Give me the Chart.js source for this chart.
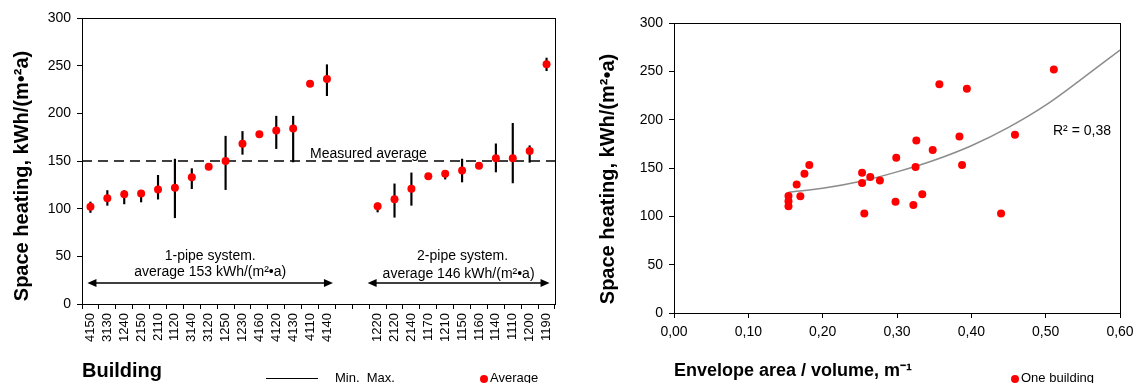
<!DOCTYPE html>
<html>
<head>
<meta charset="utf-8">
<script src="https://cdn.jsdelivr.net/npm/chart.js@4.4.1/dist/chart.umd.min.js"></script>
<style>
  html, body { margin: 0; padding: 0; background: #fff; }
  #wrap { position: relative; width: 1141px; height: 383px; overflow: hidden; }
  canvas { position: absolute; top: 0; }
  #left { left: 0; }
  #right { left: 580px; }
</style>
</head>
<body>
<div id="wrap">
  <canvas id="left" width="575" height="383"></canvas>
  <canvas id="right" width="561" height="383"></canvas>
</div>
<script>
const FONT = "'Liberation Sans', Arial, sans-serif";

// left chart: buildings, two empty slots separate 1-pipe and 2-pipe groups
const buildings = ['4150', '3130', '1240', '2150', '2110', '1120', '3140', '3120', '1250', '1230',
  '4160', '4120', '4130', '4110', '4140', '', '',
  '1220', '2120', '2140', '1170', '1210', '1150', '1160', '1140', '1110', '1200', '1190'];
const average = [102, 111, 115, 116, 120, 122, 133, 144, 150, 168, 178, 182, 184, 231, 236, null, null,
  102.5, 110, 121, 134, 136.7, 140, 145, 153, 153, 160.5, 251.4];
const minVals = [96, 103.5, 105, 107, 110, 90.5, 121, null, 120, 157, null, 163, 149, null, 218.5, null, null,
  96.5, 91, 103.5, null, 131, 128, null, 138.5, 127, 148.6, 244.7];
const maxVals = [107, 119, 119, 117, 135, 152, 142, null, 176, 181, null, 197, 197, null, 251, null, null,
  106, 126, 137.5, null, 139, 152, null, 168, 189.5, 166, 258];
const measuredAverage = 150;
const leftTicks = [0, 50, 100, 150, 200, 250, 300];

// right chart: envelope area / volume vs space heating
const envelopeRatio = [0.154, 0.154, 0.154, 0.165, 0.170, 0.1755, 0.182, 0.253, 0.253, 0.256, 0.264, 0.277,
  0.298, 0.299, 0.322, 0.326, 0.325, 0.334, 0.348, 0.357, 0.384, 0.3875, 0.394, 0.440, 0.4587, 0.511];
const heating = [121, 115.6, 110.4, 133, 120.7, 144, 153, 145, 134.5, 103, 140.7, 137,
  115, 160.6, 111.8, 178.5, 151, 122.8, 168.6, 236.7, 182.7, 153, 231.9, 103, 184.4, 252];
// trend curve
const trendX = [0.154, 0.2, 0.25, 0.3, 0.35, 0.4, 0.45, 0.5, 0.55, 0.6];
const trendY = [125, 129, 136, 146, 158, 173, 192, 215, 243, 272];

const frame = {
  id: 'frame',
  afterDraw(chart) {
    const { ctx, chartArea: a } = chart;
    ctx.save();
    ctx.strokeStyle = '#000';
    ctx.lineWidth = 1;
    ctx.strokeRect(Math.round(a.left) + 0.5, Math.round(a.top) + 0.5, Math.round(a.width), Math.round(a.height));
    ctx.restore();
  }
};

// vertical axis title, placed by hand (it sits a bit below the plot centre in the original)
function yTitle(text, cx, cy) {
  return {
    id: 'yTitle',
    afterDraw(chart) {
      const ctx = chart.ctx;
      ctx.save();
      ctx.translate(cx, cy);
      ctx.rotate(-Math.PI / 2);
      ctx.fillStyle = '#000';
      ctx.font = 'bold 20px ' + FONT;
      ctx.textAlign = 'center';
      ctx.textBaseline = 'middle';
      ctx.fillText(text, 0, 0);
      ctx.restore();
    }
  };
}

function arrow(ctx, x1, x2, y) {
  ctx.beginPath();
  ctx.moveTo(x1 + 6, y);
  ctx.lineTo(x2 - 6, y);
  ctx.stroke();
  ctx.beginPath();
  ctx.moveTo(x1, y); ctx.lineTo(x1 + 9, y - 4); ctx.lineTo(x1 + 9, y + 4); ctx.closePath();
  ctx.moveTo(x2, y); ctx.lineTo(x2 - 9, y - 4); ctx.lineTo(x2 - 9, y + 4); ctx.closePath();
  ctx.fill();
}

const leftNotes = {
  id: 'leftNotes',
  beforeDatasetsDraw(chart) {
    const { ctx, chartArea: a, scales: { y } } = chart;
    const yAvg = y.getPixelForValue(measuredAverage);
    ctx.save();
    ctx.strokeStyle = '#000';
    ctx.lineWidth = 1.5;
    ctx.setLineDash([10, 6]);
    ctx.beginPath();
    ctx.moveTo(a.left, yAvg);
    ctx.lineTo(a.right, yAvg);
    ctx.stroke();
    ctx.restore();
  },
  afterDraw(chart) {
    const { ctx, scales: { x, y } } = chart;
    ctx.save();
    ctx.fillStyle = '#000';
    ctx.strokeStyle = '#000';
    ctx.lineWidth = 1.5;
    ctx.font = '14px ' + FONT;
    ctx.textBaseline = 'middle';
    ctx.textAlign = 'left';
    ctx.fillText('Measured average', x.getPixelForValue(13), y.getPixelForValue(measuredAverage) - 7);

    const yArrow = y.getPixelForValue(22);
    const l1 = x.getPixelForValue(0) - 3, r1 = x.getPixelForValue(14) + 6;
    const l2 = x.getPixelForValue(17) - 10, r2 = x.getPixelForValue(27) + 3;
    arrow(ctx, l1, r1, yArrow);
    arrow(ctx, l2, r2, yArrow);

    ctx.textAlign = 'center';
    ctx.fillText('1-pipe system.', (l1 + r1) / 2, y.getPixelForValue(50));
    ctx.fillText('average 153 kWh/(m²•a)', (l1 + r1) / 2, y.getPixelForValue(33));
    ctx.fillText('2-pipe system.', (l2 + r2) / 2 + 4, y.getPixelForValue(50));
    ctx.fillText('average 146 kWh/(m²•a)', (l2 + r2) / 2, y.getPixelForValue(31));

    // legend
    ctx.font = '13px ' + FONT;
    ctx.lineWidth = 1;
    ctx.beginPath();
    ctx.moveTo(266, 378.5);
    ctx.lineTo(318, 378.5);
    ctx.stroke();
    ctx.textAlign = 'left';
    ctx.textBaseline = 'top';
    ctx.fillText('Min.  Max.', 335, 372);
    ctx.fillStyle = '#ff0000';
    ctx.beginPath();
    ctx.arc(484, 379, 4, 0, Math.PI * 2);
    ctx.fill();
    ctx.fillStyle = '#000';
    ctx.fillText('Average', 490, 372);
    ctx.restore();
  }
};

new Chart(document.getElementById('left').getContext('2d'), {
  type: 'bar',
  data: {
    labels: buildings,
    datasets: [{
      type: 'line',
      label: 'Average',
      data: average,
      showLine: false,
      pointRadius: 4,
      pointBorderWidth: 0,
      pointBackgroundColor: '#ff0000',
      order: 0
    }, {
      label: 'Min. Max.',
      data: buildings.map((b, i) => minVals[i] == null ? null : [minVals[i], maxVals[i]]),
      backgroundColor: '#000',
      borderWidth: 0,
      barThickness: 1.5,
      order: 1
    }]
  },
  options: {
    responsive: false,
    animation: false,
    devicePixelRatio: 1,
    layout: { padding: { top: 18, right: 20, left: 0, bottom: 0 } },
    plugins: { legend: { display: false }, tooltip: { enabled: false } },
    scales: {
      x: {
        grid: { offset: true, drawOnChartArea: false, tickLength: 5, color: '#000' },
        border: { color: '#000' },
        ticks: { color: '#000', font: { family: FONT, size: 13 }, minRotation: 90, maxRotation: 90, autoSkip: false, padding: 4 },
        title: { display: true, text: 'Building', align: 'start', color: '#000', font: { family: FONT, size: 20, weight: 'bold' }, padding: { top: 0, bottom: 0 } },
        afterFit(scale) { scale.height = 79; }
      },
      y: {
        min: 0, max: 300,
        afterBuildTicks(scale) { scale.ticks = leftTicks.map(v => ({ value: v })); },
        grid: { drawOnChartArea: false, tickLength: 5, color: '#000' },
        border: { color: '#000' },
        ticks: { color: '#000', font: { family: FONT, size: 14 }, padding: 6 },
        afterFit(scale) { scale.width = 82; }
      }
    }
  },
  plugins: [frame, leftNotes, yTitle('Space heating, kWh/(m•²a)', 22, 176)]
});

const rightNotes = {
  id: 'rightNotes',
  afterDraw(chart) {
    const { ctx } = chart;
    ctx.save();
    ctx.fillStyle = '#000';
    ctx.font = '14px ' + FONT;
    ctx.textBaseline = 'middle';
    ctx.fillText('R² = 0,38', 473, 131);
    ctx.font = '13px ' + FONT;
    ctx.textBaseline = 'top';
    ctx.fillStyle = '#ff0000';
    ctx.beginPath();
    ctx.arc(435, 379, 4, 0, Math.PI * 2);
    ctx.fill();
    ctx.fillStyle = '#000';
    ctx.fillText('One building', 441, 372);
    ctx.restore();
  }
};

new Chart(document.getElementById('right').getContext('2d'), {
  type: 'scatter',
  data: {
    datasets: [{
      label: 'One building',
      data: envelopeRatio.map((v, i) => ({ x: v, y: heating[i] })),
      pointRadius: 4,
      pointBorderWidth: 0,
      pointBackgroundColor: '#ff0000',
      order: 0
    }, {
      type: 'line',
      label: 'Trend',
      data: trendX.map((v, i) => ({ x: v, y: trendY[i] })),
      borderColor: '#8c8c8c',
      borderWidth: 1.5,
      pointRadius: 0,
      cubicInterpolationMode: 'monotone',
      order: 1
    }]
  },
  options: {
    responsive: false,
    animation: false,
    devicePixelRatio: 1,
    layout: { padding: { top: 23, right: 21, left: 0, bottom: 0 } },
    plugins: { legend: { display: false }, tooltip: { enabled: false } },
    scales: {
      x: {
        type: 'linear', min: 0, max: 0.6,
        grid: { drawOnChartArea: false, tickLength: 5, color: '#000' },
        border: { color: '#000' },
        ticks: { stepSize: 0.1, color: '#000', font: { family: FONT, size: 14 }, padding: 6, maxRotation: 0,
          callback: v => v.toFixed(2).replace('.', ',') },
        title: { display: true, text: 'Envelope area / volume, m⁻¹', align: 'start', color: '#000', font: { family: FONT, size: 18, weight: 'bold' }, padding: { top: 0, bottom: 1 } },
        afterFit(scale) { scale.height = 70; }
      },
      y: {
        min: 0, max: 300,
        grid: { drawOnChartArea: false, tickLength: 5, color: '#000' },
        border: { color: '#000' },
        ticks: { stepSize: 50, color: '#000', font: { family: FONT, size: 14 }, padding: 6 },
        afterFit(scale) { scale.width = 94; }
      }
    }
  },
  plugins: [frame, rightNotes, yTitle('Space heating, kWh/(m²•a)', 28, 179)]
});
</script>
</body>
</html>
